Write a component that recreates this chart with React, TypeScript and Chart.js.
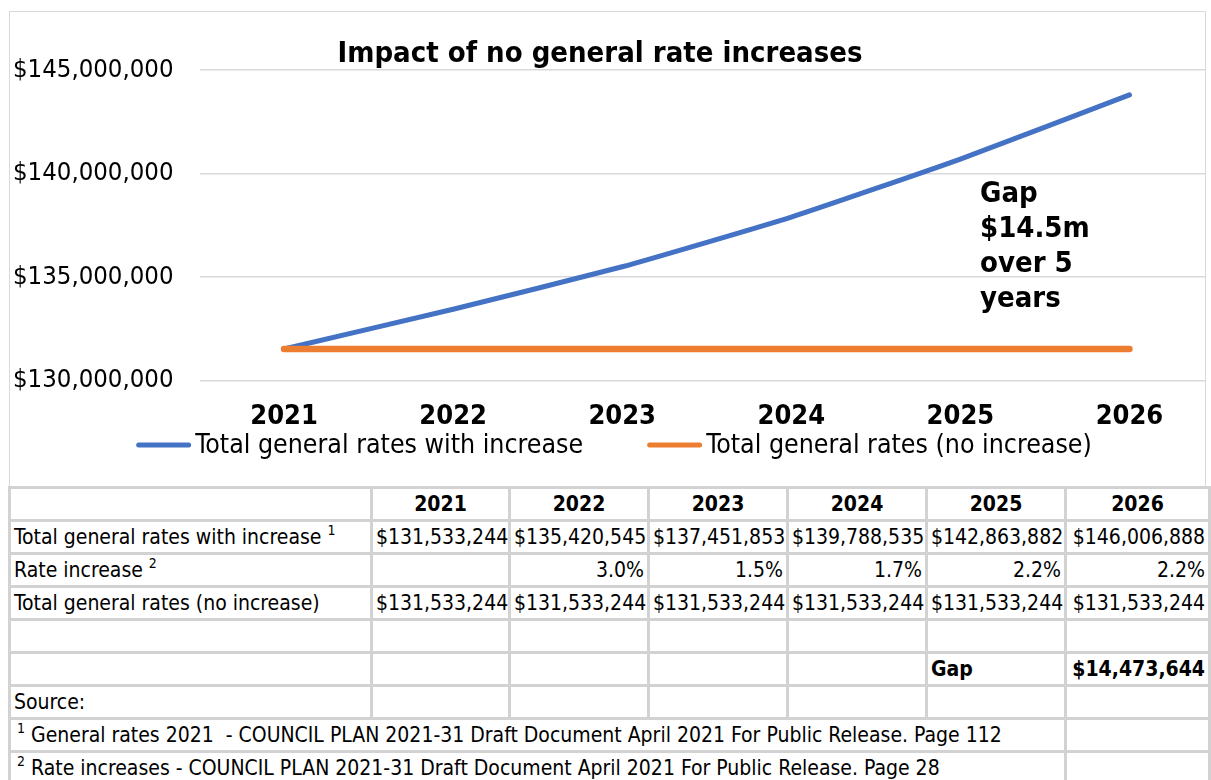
import React, { useEffect, useRef } from "react";
import { Chart, registerables } from "chart.js";

Chart.register(...registerables);

// ---------- data ----------
const years = ["2021", "2022", "2023", "2024", "2025", "2026"];
// values as plotted on the chart
const withIncreaseSeries = [131533244, 133450000, 135500000, 137900000, 140700000, 143800000];
const noIncreaseSeries = [131533244, 131533244, 131533244, 131533244, 131533244, 131533244];
const seriesLabels = ["Total general rates with increase", "Total general rates (no increase)"];
const yTicks = [130000000, 135000000, 140000000, 145000000];
const chartTitle = "Impact of no general rate increases";
const gapNote = ["Gap", "$14.5m", "over 5", "years"];

// values in the table under the chart
const tableWithIncrease = [131533244, 135420545, 137451853, 139788535, 142863882, 146006888];
const tableRateIncrease = [null, 3.0, 1.5, 1.7, 2.2, 2.2];
const tableNoIncrease = [131533244, 131533244, 131533244, 131533244, 131533244, 131533244];
const gapTotal = 14473644;
const footnotes = [
  "General rates 2021  - COUNCIL PLAN 2021-31 Draft Document April 2021 For Public Release. Page 112",
  "Rate increases - COUNCIL PLAN 2021-31 Draft Document April 2021 For Public Release. Page 28",
];

const FONT = '"DejaVu Sans Condensed", "DejaVu Sans", sans-serif';
const BLUE = "#4472C4";
const ORANGE = "#ED7D31";

const money = (v: number) => "$" + v.toLocaleString("en-US");

const overlayPlugin = {
  id: "overlay",
  afterDraw(chart: any) {
    const ctx = chart.ctx;
    ctx.save();
    ctx.fillStyle = "#000";
    // title
    ctx.font = `bold 29px ${FONT}`;
    ctx.textAlign = "center";
    ctx.textBaseline = "middle";
    ctx.fillText(chartTitle, 590, 42);
    // gap annotation
    ctx.textAlign = "left";
    ctx.font = `bold 29px ${FONT}`;
    gapNote.forEach((line, i) => ctx.fillText(line, 970, 182 + i * 35));
    // legend
    ctx.font = `26.5px ${FONT}`;
    const sample = 55;
    const gapT = 4;
    const gapItems = 64;
    const items = chart.data.datasets.map((ds: any) => ({
      label: ds.label,
      color: ds.borderColor,
      w: ctx.measureText(ds.label).width,
    }));
    const total =
      items.reduce((s: number, it: any) => s + sample + gapT + it.w, 0) + gapItems * (items.length - 1);
    let x = chart.width / 2 + 2 - total / 2;
    const y = 433;
    items.forEach((it: any) => {
      ctx.strokeStyle = it.color;
      ctx.lineWidth = 5;
      ctx.lineCap = "round";
      ctx.beginPath();
      ctx.moveTo(x + 2.5, y);
      ctx.lineTo(x + sample - 2.5, y);
      ctx.stroke();
      ctx.fillStyle = "#000";
      ctx.fillText(it.label, x + sample + gapT, y + 1);
      x += sample + gapT + it.w + gapItems;
    });
    ctx.restore();
  },
};

function LineChart() {
  const ref = useRef<HTMLCanvasElement | null>(null);
  useEffect(() => {
    if (!ref.current) return;
    const chart = new Chart(ref.current, {
      type: "line",
      data: {
        labels: years,
        datasets: [
          {
            label: seriesLabels[0],
            data: withIncreaseSeries,
            borderColor: BLUE,
            backgroundColor: BLUE,
            borderWidth: 5,
            pointRadius: 0,
            tension: 0.15,
            borderCapStyle: "round",
            borderJoinStyle: "round",
            order: 1,
          },
          {
            label: seriesLabels[1],
            data: noIncreaseSeries,
            borderColor: ORANGE,
            backgroundColor: ORANGE,
            borderWidth: 6.5,
            pointRadius: 0,
            tension: 0,
            borderCapStyle: "round",
            order: 0,
          },
        ],
      },
      options: {
        animation: false,
        responsive: true,
        maintainAspectRatio: false,
        layout: { padding: { top: 58, left: 0, right: 0, bottom: 54 } },
        plugins: {
          legend: { display: false },
          title: { display: false },
          tooltip: { enabled: false },
        },
        scales: {
          x: {
            offset: true,
            grid: { display: false, drawTicks: false },
            border: { display: false },
            ticks: {
              padding: 20,
              color: "#000",
              font: { family: FONT, size: 27, weight: "bold" },
            },
            afterFit: (scale: any) => {
              scale.height = 50.3;
            },
          },
          y: {
            min: yTicks[0],
            max: yTicks[yTicks.length - 1],
            grid: { color: "#d9d9d9", lineWidth: 1.5, drawTicks: false },
            border: { display: false },
            afterBuildTicks: (scale: any) => {
              scale.ticks = yTicks.map((v) => ({ value: v }));
            },
            ticks: {
              padding: 26,
              color: "#000",
              font: { family: FONT, size: 25.5 },
              callback: (v: any) => money(Number(v)),
            },
            afterFit: (scale: any) => {
              scale.width = 189.5;
            },
          },
        },
      },
      plugins: [overlayPlugin],
    } as any);
    return () => chart.destroy();
  }, []);
  return <canvas ref={ref} />;
}

const colWidths = [362, 138, 139, 139, 139, 139, 144];
const BORDER = "3px solid #d2d2d2";

export default function App() {
  const cell: React.CSSProperties = {
    border: BORDER,
    padding: "0 3px",
    height: 30,
    whiteSpace: "nowrap",
    overflow: "hidden",
  };
  const num: React.CSSProperties = { ...cell, textAlign: "right" };
  const sup: React.CSSProperties = { fontSize: 14, verticalAlign: "top", position: "relative", top: -3 };
  return (
    <div
      style={{
        position: "absolute",
        left: 0,
        top: 0,
        width: 1211,
        height: 780,
        overflow: "hidden",
        background: "#fff",
        fontFamily: FONT,
        color: "#000",
      }}
    >
      <div
        style={{
          position: "absolute",
          left: 9,
          top: 11,
          width: 1195,
          height: 474,
          border: "1px solid #d9d9d9",
          overflow: "hidden",
        }}
      >
        <div style={{ position: "absolute", left: 0, top: 0, width: 1204, height: 473 }}>
          <LineChart />
        </div>
      </div>
      <table
        style={{
          position: "absolute",
          left: 8,
          top: 486,
          borderCollapse: "collapse",
          tableLayout: "fixed",
          width: colWidths.reduce((a, b) => a + b, 0),
          fontSize: 21,
          fontFamily: FONT,
        }}
      >
        <colgroup>
          {colWidths.map((w, i) => (
            <col key={i} style={{ width: w }} />
          ))}
        </colgroup>
        <tbody>
          <tr>
            <td style={cell}></td>
            {years.map((y) => (
              <td key={y} style={{ ...cell, textAlign: "center", fontWeight: "bold" }}>
                {y}
              </td>
            ))}
          </tr>
          <tr>
            <td style={cell}>
              {seriesLabels[0]} <span style={sup}>1</span>
            </td>
            {tableWithIncrease.map((v, i) => (
              <td key={i} style={num}>
                {money(v)}
              </td>
            ))}
          </tr>
          <tr>
            <td style={cell}>
              Rate increase <span style={sup}>2</span>
            </td>
            {tableRateIncrease.map((v, i) => (
              <td key={i} style={num}>
                {v === null ? "" : v.toFixed(1) + "%"}
              </td>
            ))}
          </tr>
          <tr>
            <td style={cell}>{seriesLabels[1]}</td>
            {tableNoIncrease.map((v, i) => (
              <td key={i} style={num}>
                {money(v)}
              </td>
            ))}
          </tr>
          <tr>
            {colWidths.map((_, i) => (
              <td key={i} style={cell}></td>
            ))}
          </tr>
          <tr>
            <td style={cell}></td>
            <td style={cell}></td>
            <td style={cell}></td>
            <td style={cell}></td>
            <td style={cell}></td>
            <td style={{ ...cell, fontWeight: "bold" }}>Gap</td>
            <td style={{ ...num, fontWeight: "bold" }}>{money(gapTotal)}</td>
          </tr>
          <tr>
            <td style={cell}>Source:</td>
            {years.map((y) => (
              <td key={y} style={cell}></td>
            ))}
          </tr>
          {footnotes.map((f, i) => (
            <tr key={i}>
              <td colSpan={6} style={{ ...cell, whiteSpace: "pre", paddingLeft: 6 }}>
                <span style={sup}>{i + 1}</span> {f}
              </td>
              <td style={cell}></td>
            </tr>
          ))}
        </tbody>
      </table>
    </div>
  );
}
